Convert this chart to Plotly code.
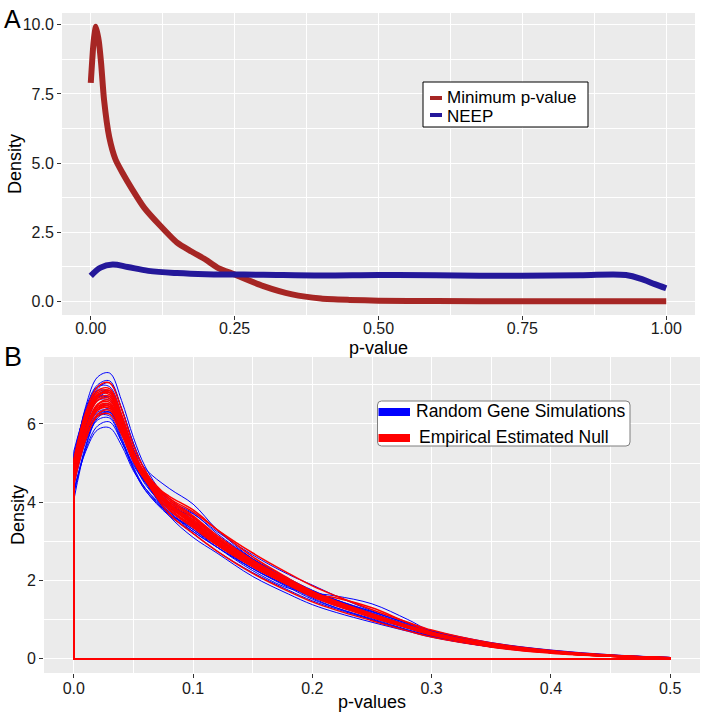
import plotly.graph_objects as go

# ---------------- Panel A data ----------------
min_p_x = [0, 0.005, 0.009, 0.014, 0.018, 0.023, 0.032, 0.043, 0.055, 0.072, 0.093, 0.12, 0.15,
           0.175, 0.2, 0.22, 0.25, 0.3, 0.35, 0.4, 0.45, 0.5, 0.6, 0.75, 0.9, 1.0]
min_p_y = [7.9, 9.4, 9.93, 9.4, 8.6, 7.3, 5.95, 5.13, 4.65, 4.05, 3.38, 2.75, 2.12,
           1.8, 1.5, 1.22, 0.97, 0.55, 0.25, 0.1, 0.05, 0.02, 0.01, 0.0, 0.0, 0.0]
neep_x = [0, 0.017, 0.038, 0.064, 0.1, 0.15, 0.2, 0.25, 0.3, 0.4, 0.5, 0.6, 0.75, 0.85,
          0.93, 0.96, 0.98, 1.0]
neep_y = [0.92, 1.22, 1.33, 1.24, 1.1, 1.02, 0.98, 0.97, 0.96, 0.93, 0.95, 0.94, 0.92, 0.94,
          0.95, 0.78, 0.62, 0.47]
a_xticks = [0, 0.25, 0.5, 0.75, 1.0]
a_xticklabels = ["0.00", "0.25", "0.50", "0.75", "1.00"]
a_yticks = [0, 2.5, 5, 7.5, 10]
a_yticklabels = ["0.0", "2.5", "5.0", "7.5", "10.0"]

# ---------------- Panel B data ----------------
p_grid = [0, 0.01, 0.02, 0.03, 0.04, 0.05, 0.06, 0.08, 0.10, 0.12, 0.15, 0.18, 0.20, 0.22,
          0.25, 0.28, 0.30, 0.35, 0.40, 0.45, 0.50]

# Random gene simulations (blue)
sim_01 = [5.0, 6.45, 7.2, 7.3, 6.6, 5.65, 4.9, 4.0, 3.55, 3.0, 2.4, 1.9, 1.6, 1.4, 1.1, 0.8, 0.62, 0.33, 0.16, 0.07, 0.02]
sim_02 = [4.3, 5.3, 5.85, 5.9, 5.45, 4.8, 4.35, 3.75, 3.3, 2.9, 2.35, 1.9, 1.6, 1.38, 1.08, 0.8, 0.63, 0.35, 0.18, 0.08, 0.02]
sim_03 = [4.05, 5.4, 6.15, 6.3, 5.8, 5.1, 4.55, 3.9, 3.5, 3.05, 2.5, 1.95, 1.62, 1.38, 1.05, 0.78, 0.6, 0.32, 0.16, 0.07, 0.02]
sim_04 = [5.3, 6.3, 6.85, 6.8, 6.05, 5.15, 4.5, 3.75, 3.25, 2.85, 2.3, 1.85, 1.55, 1.3, 1.0, 0.72, 0.56, 0.3, 0.15, 0.06, 0.02]
sim_05 = [4.7, 5.8, 6.4, 6.5, 6.0, 5.35, 4.85, 4.35, 3.95, 3.3, 2.55, 2.0, 1.7, 1.45, 1.12, 0.82, 0.64, 0.34, 0.17, 0.07, 0.02]
sim_06 = [4.6, 5.7, 6.25, 6.3, 5.65, 4.9, 4.35, 3.7, 3.3, 2.85, 2.25, 1.8, 1.68, 1.6, 1.4, 1.0, 0.7, 0.36, 0.18, 0.08, 0.02]
sim_07 = [4.9, 6.1, 6.75, 6.85, 6.15, 5.25, 4.55, 3.65, 3.1, 2.7, 2.1, 1.65, 1.38, 1.18, 0.93, 0.7, 0.55, 0.3, 0.15, 0.06, 0.02]
sim_08 = [4.5, 5.6, 6.2, 6.3, 5.8, 5.15, 4.65, 4.0, 3.7, 3.25, 2.65, 2.15, 1.88, 1.6, 1.22, 0.9, 0.72, 0.41, 0.22, 0.1, 0.03]
sim_09 = [5.1, 6.2, 6.7, 6.65, 5.9, 5.05, 4.45, 3.8, 3.4, 3.0, 2.45, 1.97, 1.68, 1.42, 1.1, 0.8, 0.62, 0.33, 0.16, 0.06, 0.02]
sim_10 = [4.4, 5.55, 6.1, 6.15, 5.55, 4.85, 4.3, 3.65, 3.25, 2.85, 2.3, 1.85, 1.58, 1.35, 1.08, 0.82, 0.66, 0.37, 0.19, 0.08, 0.02]
sim_11 = [4.85, 6.15, 6.9, 7.05, 6.4, 5.5, 4.8, 3.95, 3.48, 3.0, 2.4, 1.92, 1.62, 1.38, 1.06, 0.78, 0.6, 0.31, 0.15, 0.06, 0.02]
sim_12 = [4.65, 5.75, 6.3, 6.35, 5.75, 5.0, 4.5, 3.85, 3.5, 3.05, 2.48, 2.0, 1.72, 1.48, 1.16, 0.86, 0.67, 0.36, 0.19, 0.09, 0.03]
sim_13 = [5.05, 6.4, 7.0, 7.1, 6.4, 5.5, 4.8, 3.95, 3.55, 3.1, 2.45, 1.95, 1.63, 1.38, 1.07, 0.8, 0.62, 0.33, 0.16, 0.07, 0.02]
sim_14 = [4.25, 5.35, 5.95, 6.05, 5.55, 4.95, 4.5, 3.9, 3.45, 3.0, 2.4, 1.9, 1.6, 1.37, 1.07, 0.8, 0.63, 0.35, 0.18, 0.08, 0.02]
sim_15 = [4.95, 6.05, 6.6, 6.6, 6.0, 5.25, 4.7, 4.05, 3.72, 3.2, 2.55, 2.02, 1.74, 1.5, 1.2, 0.9, 0.71, 0.4, 0.21, 0.09, 0.03]
sim_16 = [4.55, 5.9, 6.65, 6.8, 6.2, 5.35, 4.65, 3.8, 3.35, 2.9, 2.3, 1.82, 1.52, 1.3, 1.02, 0.74, 0.58, 0.31, 0.15, 0.06, 0.02]
sim_17 = [4.75, 5.95, 6.6, 6.7, 6.1, 5.3, 4.7, 3.9, 3.45, 2.98, 2.4, 1.92, 1.62, 1.4, 1.1, 0.82, 0.64, 0.35, 0.17, 0.07, 0.02]
sim_18 = [4.2, 5.45, 6.2, 6.4, 5.9, 5.2, 4.65, 3.95, 3.6, 3.15, 2.55, 2.05, 1.75, 1.5, 1.17, 0.87, 0.69, 0.39, 0.2, 0.09, 0.03]
sim_19 = [5.2, 6.35, 6.95, 6.95, 6.25, 5.35, 4.65, 3.7, 3.2, 2.75, 2.2, 1.75, 1.48, 1.27, 0.99, 0.73, 0.57, 0.3, 0.15, 0.06, 0.02]
sim_20 = [4.6, 5.65, 6.2, 6.2, 5.6, 4.85, 4.3, 3.7, 3.35, 2.95, 2.42, 1.98, 1.72, 1.5, 1.2, 0.9, 0.7, 0.38, 0.19, 0.08, 0.02]

# Empirical estimated null (red)
null_01 = [4.8, 6.0, 6.6, 6.65, 6.0, 5.15, 4.6, 3.9, 3.5, 3.02, 2.42, 1.93, 1.63, 1.4, 1.1, 0.81, 0.63, 0.34, 0.17, 0.07, 0.02]
null_02 = [5.1, 6.3, 6.95, 7.05, 6.38, 5.45, 4.8, 3.95, 3.45, 2.95, 2.35, 1.88, 1.58, 1.35, 1.05, 0.78, 0.6, 0.32, 0.16, 0.06, 0.02]
null_03 = [4.5, 5.65, 6.2, 6.25, 5.73, 5.05, 4.6, 4.15, 3.8, 3.3, 2.6, 2.05, 1.72, 1.46, 1.14, 0.84, 0.66, 0.36, 0.18, 0.08, 0.02]
null_04 = [4.95, 6.1, 6.7, 6.8, 6.13, 5.25, 4.65, 3.85, 3.38, 2.92, 2.35, 1.9, 1.62, 1.4, 1.1, 0.82, 0.64, 0.34, 0.17, 0.07, 0.02]
null_05 = [4.65, 5.85, 6.45, 6.5, 5.88, 5.1, 4.6, 4.0, 3.6, 3.1, 2.48, 1.98, 1.66, 1.42, 1.12, 0.83, 0.65, 0.35, 0.18, 0.07, 0.02]
null_06 = [4.7, 5.85, 6.4, 6.45, 5.83, 5.05, 4.55, 3.9, 3.45, 2.95, 2.35, 1.9, 1.65, 1.55, 1.3, 0.92, 0.68, 0.3, 0.14, 0.06, 0.02]
null_07 = [5.0, 6.15, 6.75, 6.75, 6.08, 5.2, 4.6, 3.9, 3.5, 3.05, 2.45, 1.95, 1.65, 1.42, 1.12, 0.82, 0.63, 0.33, 0.16, 0.06, 0.02]
null_08 = [4.55, 5.75, 6.4, 6.5, 5.93, 5.2, 4.7, 4.05, 3.62, 3.1, 2.46, 1.96, 1.65, 1.4, 1.08, 0.8, 0.62, 0.34, 0.17, 0.07, 0.02]
null_09 = [4.85, 6.05, 6.65, 6.7, 6.03, 5.15, 4.55, 3.8, 3.4, 2.98, 2.42, 1.95, 1.66, 1.43, 1.12, 0.83, 0.65, 0.35, 0.18, 0.07, 0.02]
null_10 = [4.75, 5.9, 6.5, 6.55, 5.93, 5.15, 4.65, 3.95, 3.55, 3.08, 2.5, 2.02, 1.72, 1.47, 1.15, 0.85, 0.66, 0.35, 0.17, 0.07, 0.02]
null_11 = [4.6, 5.8, 6.5, 6.6, 5.98, 5.2, 4.65, 3.9, 3.45, 2.98, 2.38, 1.9, 1.6, 1.37, 1.07, 0.79, 0.62, 0.33, 0.16, 0.07, 0.02]
null_12 = [5.05, 6.2, 6.85, 6.9, 6.23, 5.3, 4.7, 3.95, 3.5, 3.0, 2.4, 1.92, 1.62, 1.4, 1.1, 0.8, 0.62, 0.33, 0.16, 0.06, 0.02]
null_13 = [4.45, 5.6, 6.25, 6.35, 5.8, 5.1, 4.6, 3.95, 3.55, 3.1, 2.5, 2.0, 1.7, 1.45, 1.12, 0.83, 0.65, 0.35, 0.18, 0.08, 0.02]
null_14 = [4.9, 6.05, 6.7, 6.85, 6.2, 5.3, 4.6, 3.7, 3.2, 2.75, 2.18, 1.72, 1.45, 1.24, 0.97, 0.71, 0.55, 0.3, 0.15, 0.06, 0.02]
null_15 = [4.7, 5.8, 6.35, 6.4, 5.85, 5.15, 4.65, 4.1, 3.75, 3.3, 2.7, 2.18, 1.86, 1.6, 1.25, 0.93, 0.73, 0.4, 0.21, 0.09, 0.02]
null_16 = [5.0, 6.2, 6.8, 6.85, 6.15, 5.25, 4.6, 3.8, 3.35, 2.9, 2.35, 1.88, 1.6, 1.38, 1.08, 0.8, 0.62, 0.33, 0.16, 0.06, 0.02]
null_17 = [4.6, 5.75, 6.35, 6.45, 5.95, 5.25, 4.75, 4.1, 3.65, 3.15, 2.52, 2.0, 1.68, 1.44, 1.12, 0.82, 0.64, 0.34, 0.17, 0.07, 0.02]
null_18 = [4.85, 6.1, 6.75, 6.8, 6.15, 5.3, 4.7, 3.9, 3.42, 2.95, 2.38, 1.9, 1.6, 1.38, 1.1, 0.84, 0.67, 0.37, 0.19, 0.08, 0.02]

sims = [sim_01, sim_02, sim_03, sim_04, sim_05, sim_06, sim_07, sim_08, sim_09, sim_10,
        sim_11, sim_12, sim_13, sim_14, sim_15, sim_16, sim_17, sim_18, sim_19, sim_20]
nulls = [null_01, null_02, null_03, null_04, null_05, null_06, null_07, null_08, null_09,
         null_10, null_11, null_12, null_13, null_14, null_15, null_16, null_17, null_18]

b_xticks = [0, 0.1, 0.2, 0.3, 0.4, 0.5]
b_xticklabels = ["0.0", "0.1", "0.2", "0.3", "0.4", "0.5"]
b_yticks = [0, 2, 4, 6]

# ---------------- styling ----------------
W, H = 704, 715
FONT = "Liberation Sans, Arial, Helvetica, sans-serif"
RED_A = "#A62624"
BLUE_A = "#24189A"
BLUE_B = "#0000FF"
RED_B = "#FF0000"


def px(x):
    return x / W


def py(y):
    return 1 - y / H


fig = go.Figure()

# Panel A
fig.add_trace(go.Scatter(x=min_p_x, y=min_p_y, mode="lines", xaxis="x", yaxis="y",
                         line=dict(color=RED_A, width=6, shape="spline", smoothing=0.6),
                         name="Minimum p-value", showlegend=False, hoverinfo="skip"))
fig.add_trace(go.Scatter(x=neep_x, y=neep_y, mode="lines", xaxis="x", yaxis="y",
                         line=dict(color=BLUE_A, width=6, shape="spline", smoothing=1.0),
                         name="NEEP", showlegend=False, hoverinfo="skip"))


# Panel B
def add_density(curve, color, width):
    fig.add_trace(go.Scatter(x=p_grid, y=curve, mode="lines", xaxis="x2", yaxis="y2",
                             line=dict(color=color, width=width, shape="spline", smoothing=1.0),
                             showlegend=False, hoverinfo="skip"))
    fig.add_trace(go.Scatter(x=[p_grid[0], p_grid[0], p_grid[-1], p_grid[-1]],
                             y=[curve[0], 0, 0, curve[-1]], mode="lines", xaxis="x2", yaxis="y2",
                             line=dict(color=color, width=width),
                             showlegend=False, hoverinfo="skip"))


for c in sims:
    add_density(c, BLUE_B, 1.0)
for c in nulls:
    add_density(c, RED_B, 1.5)

axis_common = dict(
    showgrid=True, gridcolor="white", gridwidth=1.2, zeroline=False, showline=False,
    ticks="outside", ticklen=4, tickwidth=1, tickcolor="#333333",
    tickfont=dict(family=FONT, size=16, color="#1A1A1A"),
)

fig.update_layout(
    width=W, height=H, margin=dict(l=0, r=0, t=0, b=0),
    paper_bgcolor="white", plot_bgcolor="#EBEBEB",
    showlegend=False,
    xaxis=dict(domain=[px(62), px(695)], anchor="y", range=[-0.05, 1.05],
               tickvals=a_xticks, ticktext=a_xticklabels, ticklabelstandoff=-5,
               minor=dict(dtick=0.125, tick0=0.125, showgrid=True, gridcolor="white", gridwidth=0.5, ticks=""),
               **axis_common),
    yaxis=dict(domain=[py(315), py(13)], anchor="x", range=[-0.497, 10.43],
               tickvals=a_yticks, ticktext=a_yticklabels,
               minor=dict(dtick=1.25, tick0=1.25, showgrid=True, gridcolor="white", gridwidth=0.5, ticks=""),
               **axis_common),
    xaxis2=dict(domain=[px(44), px(700)], anchor="y2", range=[-0.025, 0.525],
                tickvals=b_xticks, ticktext=b_xticklabels, ticklabelstandoff=-3,
                minor=dict(dtick=0.05, tick0=0.05, showgrid=True, gridcolor="white", gridwidth=0.5, ticks=""),
                **axis_common),
    yaxis2=dict(domain=[py(673), py(357)], anchor="x2", range=[-0.367, 7.71],
                tickvals=b_yticks,
                minor=dict(dtick=1, tick0=1, showgrid=True, gridcolor="white", gridwidth=0.5, ticks=""),
                **axis_common),
)

ann = []
title_font = dict(family=FONT, size=18, color="black")
ann.append(dict(text="A", x=px(2), y=py(3), xref="paper", yref="paper", xanchor="left", yanchor="top",
                showarrow=False, font=dict(family=FONT, size=25, color="black")))
ann.append(dict(text="B", x=px(2), y=py(340), xref="paper", yref="paper", xanchor="left", yanchor="top",
                showarrow=False, font=dict(family=FONT, size=27, color="black")))
ann.append(dict(text="Density", x=px(15), y=py(164), xref="paper", yref="paper", textangle=-90,
                xanchor="center", yanchor="middle", showarrow=False, font=title_font))
ann.append(dict(text="Density", x=px(18), y=py(515), xref="paper", yref="paper", textangle=-90,
                xanchor="center", yanchor="middle", showarrow=False, font=title_font))
ann.append(dict(text="p-value", x=px(378), y=py(348), xref="paper", yref="paper",
                xanchor="center", yanchor="middle", showarrow=False, font=title_font))
ann.append(dict(text="p-values", x=px(372), y=py(702), xref="paper", yref="paper",
                xanchor="center", yanchor="middle", showarrow=False, font=title_font))

leg_font = dict(family=FONT, size=17, color="black")
# Legend A
ann.append(dict(text="Minimum p-value", x=px(445), y=py(97), xref="paper", yref="paper",
                xanchor="left", yanchor="middle", showarrow=False, font=leg_font))
ann.append(dict(text="NEEP", x=px(445), y=py(116.5), xref="paper", yref="paper",
                xanchor="left", yanchor="middle", showarrow=False, font=leg_font))
# Legend B
ann.append(dict(text="Random Gene Simulations", x=px(414), y=py(411), xref="paper", yref="paper",
                xanchor="left", yanchor="middle", showarrow=False, font=dict(family=FONT, size=17.5, color="black")))
ann.append(dict(text="Empirical Estimated Null", x=px(417), y=py(437), xref="paper", yref="paper",
                xanchor="left", yanchor="middle", showarrow=False, font=dict(family=FONT, size=17.5, color="black")))

shapes = []
shapes.append(dict(type="rect", xref="paper", yref="paper", x0=px(423), x1=px(588), y0=py(127), y1=py(82),
                   line=dict(color="black", width=1), fillcolor="white", layer="above"))
shapes.append(dict(type="line", xref="paper", yref="paper", x0=px(430), x1=px(442), y0=py(98), y1=py(98),
                   line=dict(color=RED_A, width=4), layer="above"))
shapes.append(dict(type="line", xref="paper", yref="paper", x0=px(430), x1=px(442), y0=py(115), y1=py(115),
                   line=dict(color=BLUE_A, width=4), layer="above"))

# rounded box for legend B
r_x, r_y = px(4), 4 / H
x0, x1, y0, y1 = px(377.5), px(630), py(446), py(401)
path = (f"M {x0 + r_x},{y0} L {x1 - r_x},{y0} Q {x1},{y0} {x1},{y0 + r_y} "
        f"L {x1},{y1 - r_y} Q {x1},{y1} {x1 - r_x},{y1} "
        f"L {x0 + r_x},{y1} Q {x0},{y1} {x0},{y1 - r_y} "
        f"L {x0},{y0 + r_y} Q {x0},{y0} {x0 + r_x},{y0} Z")
shapes.append(dict(type="path", xref="paper", yref="paper", path=path,
                   line=dict(color="#7F7F7F", width=1), fillcolor="white", layer="above"))
shapes.append(dict(type="rect", xref="paper", yref="paper", x0=px(378.5), x1=px(410), y0=py(416), y1=py(408),
                   line=dict(width=0), fillcolor=BLUE_B, layer="above"))
shapes.append(dict(type="rect", xref="paper", yref="paper", x0=px(378.5), x1=px(410), y0=py(442), y1=py(434),
                   line=dict(width=0), fillcolor=RED_B, layer="above"))

fig.update_layout(annotations=ann, shapes=shapes)

fig.write_html("out.html", config={"displayModeBar": False},
               post_script="document.body.style.margin='0px';document.body.style.overflow='hidden';")
